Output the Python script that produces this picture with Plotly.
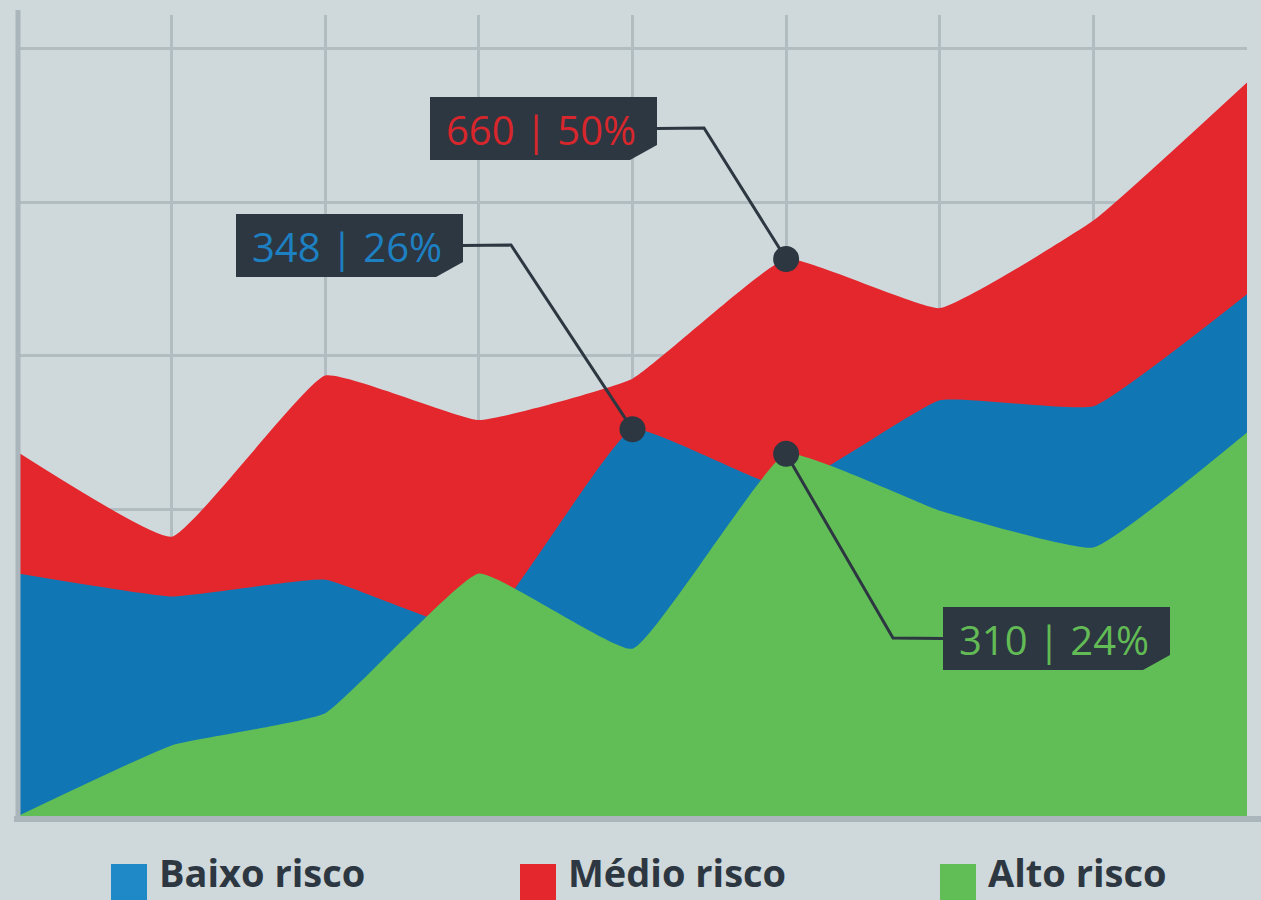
import plotly.graph_objects as go

# ---- data (arbitrary units: grid step = 100) ----
x_idx = [0, 1, 2, 3, 4, 5, 6, 7, 8]
medio = [237, 182, 287, 258, 285, 363, 331, 388, 478]
baixo = [158, 143, 154, 121, 252, 214, 271, 267, 340]
alto = [0, 46, 67, 158, 109, 236, 199, 175, 250]

series_names = ["Baixo risco", "Médio risco", "Alto risco"]
callout_texts = ["660 | 50%", "348 | 26%", "310 | 24%"]

# ---- style ----
BG = "#cfd8db"
GRID = "#b2bdc2"
RED = "#e4262d"
BLUE = "#1077b4"
GREEN = "#61bd56"
DARK = "#2d3741"
W, H = 1261, 900
L, R, T, B = 18, 14, 15, 84
YMAX = 522
XMAX = 8


def px2x(px):
    return (px - L) / (W - L - R) * XMAX


def px2y(py):
    return (H - B - py) / (H - B - T) * YMAX


fig = go.Figure()
for vals, col, name in [(medio, RED, series_names[1]), (baixo, BLUE, series_names[0]), (alto, GREEN, series_names[2])]:
    fig.add_trace(go.Scatter(
        x=x_idx, y=vals, name=name, mode="lines", fill="tozeroy",
        fillcolor=col, line=dict(color=col, width=0, shape="spline", smoothing=0.35),
        showlegend=False, hoverinfo="skip"))

# callouts: (text, color, point x index, series, box left px, box top px, elbow px, side)
callouts = [
    (callout_texts[0], "#d8262d", 5, medio, 430, 97, (704, 128), "right"),
    (callout_texts[1], "#1d80c2", 4, baixo, 236, 214, (511, 245), "right"),
    (callout_texts[2], "#62bb55", 5, alto, 943, 607, (893, 638), "left"),
]
BW, BH, NOTCH = 227, 63, 27
shapes = []
annotations = []
for text, col, xi, ser, bx, by, elbow, side in callouts:
    sx = bx + BW if side == "right" else bx
    sy = by + BH / 2
    fig.add_trace(go.Scatter(
        x=[px2x(sx), px2x(elbow[0]), x_idx[xi]],
        y=[px2y(sy), px2y(elbow[1]), ser[xi]],
        mode="lines", line=dict(color=DARK, width=3), showlegend=False, hoverinfo="skip"))
    pts = [(bx, by), (bx + BW, by), (bx + BW, by + BH - 15), (bx + BW - NOTCH, by + BH), (bx, by + BH)]
    path = "M " + " L ".join(f"{px2x(a)},{px2y(b)}" for a, b in pts) + " Z"
    shapes.append(dict(type="path", path=path, xref="x", yref="y", fillcolor=DARK, line=dict(width=0), layer="above"))
    annotations.append(dict(x=px2x(bx + BW / 2 - 3), y=px2y(by + BH / 2 + 1), xref="x", yref="y", text=text,
                            showarrow=False, font=dict(family="Open Sans", size=40, color=col)))

# dots
fig.add_trace(go.Scatter(
    x=[x_idx[5], x_idx[4], x_idx[5]], y=[medio[5], baixo[4], alto[5]], mode="markers",
    marker=dict(color=DARK, size=26), showlegend=False, hoverinfo="skip"))

# axis lines (left and bottom)
shapes.append(dict(type="line", xref="paper", yref="paper", x0=0, x1=0,
                   y0=1 + 5 / (H - T - B), y1=-4 / (H - T - B), line=dict(color="#aab6bb", width=5), layer="above"))
shapes.append(dict(type="line", xref="paper", yref="paper", x0=-4 / (W - L - R), x1=(W - L + 2) / (W - L - R),
                   y0=-3 / (H - T - B), y1=-3 / (H - T - B), line=dict(color="#aab6bb", width=6), layer="above"))

# manual legend
legend_items = [(series_names[0], "#1f88c6", 111), (series_names[1], RED, 520), (series_names[2], GREEN, 940)]
for name, col, lx in legend_items:
    shapes.append(dict(type="rect", xref="paper", yref="paper",
                       x0=(lx - L) / (W - L - R), x1=(lx + 36 - L) / (W - L - R),
                       y0=(H - B - 900) / (H - T - B), y1=(H - B - 864) / (H - T - B),
                       fillcolor=col, line=dict(width=0)))
    annotations.append(dict(x=(lx + 46 - L) / (W - L - R), y=(H - B - 872) / (H - T - B), xref="paper", yref="paper",
                            xanchor="left", yanchor="middle", text=f"<b>{name}</b>", showarrow=False,
                            font=dict(family="Open Sans", size=38, color=DARK)))

fig.update_layout(
    width=W, height=H, margin=dict(l=L, r=R, t=T, b=B),
    paper_bgcolor=BG, plot_bgcolor=BG,
    xaxis=dict(range=[0, XMAX], dtick=1, showgrid=True, gridcolor=GRID, gridwidth=3,
               showticklabels=False, zeroline=False, showline=False, fixedrange=True),
    yaxis=dict(range=[0, YMAX], dtick=100, showgrid=True, gridcolor=GRID, gridwidth=3,
               showticklabels=False, zeroline=False, showline=False, fixedrange=True),
    shapes=shapes, annotations=annotations, showlegend=False,
)
fig.write_html("out.html", config={"displayModeBar": False},
               post_script="document.body.style.margin='0';document.body.style.overflow='hidden';document.body.style.background='#cfd8db';")
